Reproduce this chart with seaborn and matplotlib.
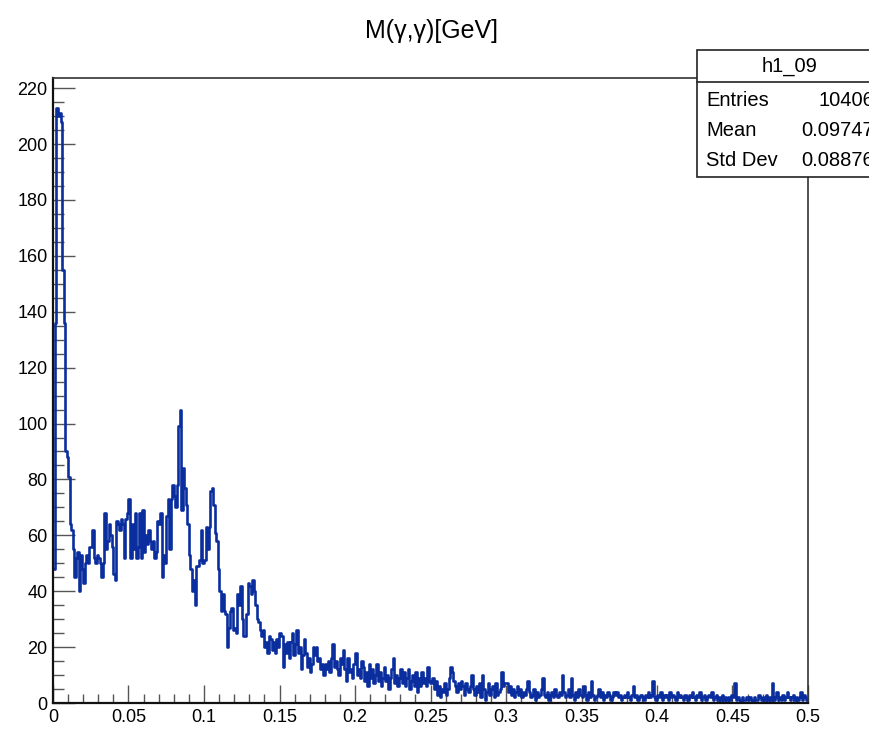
import numpy as np
import pandas as pd
import matplotlib
matplotlib.use("Agg")
import matplotlib.pyplot as plt
from matplotlib.patches import Rectangle
from matplotlib.lines import Line2D
from matplotlib.ticker import MultipleLocator, FuncFormatter
import seaborn as sns

# Histogram h1_09: diphoton invariant mass, 500 bins on [0, 0.5] GeV
hist_name = "h1_09"
title = "M(\u03b3,\u03b3)[GeV]"
x_min, x_max, n_bins = 0.0, 0.5, 500

counts = [
    48, 136, 213, 210, 211, 208, 155, 136, 90, 88,
    81, 64, 62, 55, 45, 52, 54, 40, 53, 48,
    43, 50, 53, 50, 56, 56, 62, 52, 50, 53,
    52, 50, 45, 50, 68, 55, 58, 64, 60, 56,
    46, 44, 65, 64, 62, 66, 64, 52, 66, 68,
    73, 52, 64, 55, 68, 52, 56, 68, 52, 69,
    54, 60, 57, 62, 58, 55, 58, 52, 54, 65,
    64, 68, 45, 53, 50, 67, 73, 55, 73, 78,
    74, 70, 78, 99, 105, 69, 84, 77, 71, 64,
    53, 48, 40, 44, 35, 49, 49, 51, 62, 50,
    51, 63, 55, 63, 76, 77, 71, 61, 58, 48,
    40, 33, 39, 33, 32, 20, 27, 33, 34, 26,
    27, 25, 39, 35, 42, 30, 24, 24, 32, 43,
    42, 39, 44, 40, 35, 30, 29, 26, 24, 26,
    20, 22, 18, 24, 23, 19, 22, 18, 23, 20,
    25, 24, 13, 21, 18, 22, 16, 22, 25, 17,
    21, 26, 18, 20, 12, 17, 23, 18, 13, 16,
    11, 14, 20, 17, 20, 15, 16, 12, 14, 10,
    14, 12, 15, 11, 16, 21, 13, 15, 12, 10,
    16, 14, 19, 12, 8, 16, 11, 12, 9, 14,
    18, 10, 12, 9, 15, 13, 8, 11, 6, 14,
    9, 12, 7, 10, 14, 8, 11, 6, 9, 13,
    8, 10, 5, 9, 12, 16, 7, 10, 6, 9,
    12, 7, 11, 6, 9, 12, 5, 8, 10, 6,
    11, 4, 9, 6, 11, 7, 9, 6, 13, 8,
    7, 9, 5, 8, 3, 6, 2, 5, 4, 7,
    3, 5, 9, 13, 11, 8, 6, 4, 7, 5,
    8, 6, 3, 7, 5, 4, 6, 10, 5, 3,
    6, 4, 7, 2, 10, 5, 1, 4, 7, 3,
    5, 6, 2, 7, 3, 4, 5, 11, 6, 7,
    7, 4, 6, 3, 5, 2, 4, 6, 3, 5,
    2, 4, 3, 5, 8, 4, 2, 3, 5, 1,
    4, 2, 3, 5, 9, 3, 2, 4, 1, 3,
    4, 2, 5, 3, 2, 4, 3, 10, 4, 2,
    3, 5, 2, 9, 3, 1, 4, 2, 5, 3,
    2, 6, 3, 1, 4, 2, 8, 3, 1, 2,
    3, 5, 2, 4, 1, 3, 2, 4, 3, 1,
    2, 4, 3, 4, 2, 3, 1, 2, 3, 2,
    4, 2, 1, 3, 6, 2, 3, 1, 2, 3,
    2, 1, 3, 2, 4, 2, 3, 8, 2, 1,
    3, 2, 4, 1, 3, 2, 3, 1, 4, 2,
    3, 2, 1, 4, 2, 3, 2, 1, 3, 2,
    1, 3, 2, 4, 2, 1, 3, 2, 4, 1,
    2, 3, 1, 2, 3, 2, 4, 1, 2, 3,
    1, 2, 1, 3, 1, 2, 1, 2, 1, 3,
    2, 7, 1, 2, 1, 0, 2, 1, 1, 2,
    1, 2, 1, 0, 2, 1, 1, 3, 2, 1,
    2, 1, 3, 1, 2, 1, 7, 1, 2, 4,
    1, 2, 1, 3, 1, 2, 4, 2, 1, 2,
    3, 1, 2, 1, 2, 4, 1, 3, 2, 1,
]

stat_labels = ["Entries", "Mean", "Std Dev"]
stat_values = ["10406", "0.09747", "0.08876"]

y_ticks_major = 20
y_ticks_minor = 5
x_ticks_major = 0.05
x_ticks_minor = 0.01

line_color = "#0b2e9e"

sns.set_style("white")
plt.rcParams["font.family"] = ["Liberation Sans Narrow", "Liberation Sans", "DejaVu Sans"]
plt.rcParams["text.color"] = "black"
plt.rcParams["xtick.labelcolor"] = "black"
plt.rcParams["ytick.labelcolor"] = "black"

bin_width = (x_max - x_min) / n_bins
centers = x_min + bin_width * (np.arange(n_bins) + 0.5)
df = pd.DataFrame({"mass": centers, "count": np.asarray(counts, dtype=float)})

W, H = 870, 731
fig = plt.figure(figsize=(W / 100, H / 100), dpi=100)
ax = fig.add_axes([53 / W, 28 / H, 755 / W, 625 / H])

sns.histplot(data=df, x="mass", weights="count", bins=n_bins,
             binrange=(x_min, x_max), element="step", fill=False,
             color=line_color, linewidth=1.9, ax=ax)

ax.set_xlim(x_min, x_max)
ax.set_ylim(0, max(counts) * 1.05)
ax.set_xlabel("")
ax.set_ylabel("")

ax.xaxis.set_major_locator(MultipleLocator(x_ticks_major))
ax.xaxis.set_minor_locator(MultipleLocator(x_ticks_minor))
ax.yaxis.set_major_locator(MultipleLocator(y_ticks_major))
ax.yaxis.set_minor_locator(MultipleLocator(y_ticks_minor))
ax.xaxis.set_major_formatter(FuncFormatter(lambda v, p: f"{v:g}"))

ax.tick_params(axis="y", which="major", direction="in", length=15.5, width=1.0,
               color="#555555", labelsize=13, pad=4, left=True, right=False)
ax.tick_params(axis="y", which="minor", direction="in", length=8, width=1.0,
               color="#555555", left=True, right=False)
ax.tick_params(axis="x", which="major", direction="in", length=13, width=1.0,
               color="#555555", labelsize=13, pad=4, bottom=True, top=False)
ax.tick_params(axis="x", which="minor", direction="in", length=6.5, width=1.0,
               color="#555555", bottom=True, top=False)

for side in ["left", "bottom"]:
    ax.spines[side].set_linewidth(1.6)
    ax.spines[side].set_color("#111111")
for side in ["top", "right"]:
    ax.spines[side].set_linewidth(1.2)
    ax.spines[side].set_color("#333333")

fig.text(432 / W, 1 - 31 / H, title, ha="center", va="center", fontsize=18)


# Statistics box in the upper right corner
def fx(px):
    return px / W


def fy(py):
    return 1 - py / H


box = Rectangle((fx(697), fy(177)), fx(190), 127 / H, transform=fig.transFigure,
                facecolor="white", edgecolor="#222222", linewidth=1.2, zorder=5)
fig.patches.append(box)
fig.add_artist(Line2D([fx(697), fx(890)], [fy(82), fy(82)], transform=fig.transFigure,
                      color="#222222", linewidth=1.2, zorder=6))
fig.text(fx(790), fy(66), hist_name, ha="center", va="center", fontsize=14.5, zorder=7)
for row_y, lab, val in zip([101, 130, 161], stat_labels, stat_values):
    fig.text(fx(706), fy(row_y), lab, ha="left", va="center", fontsize=14.5, zorder=7)
    fig.text(fx(874), fy(row_y), val, ha="right", va="center", fontsize=14.5, zorder=7)

fig.savefig("out.png", dpi=100)
